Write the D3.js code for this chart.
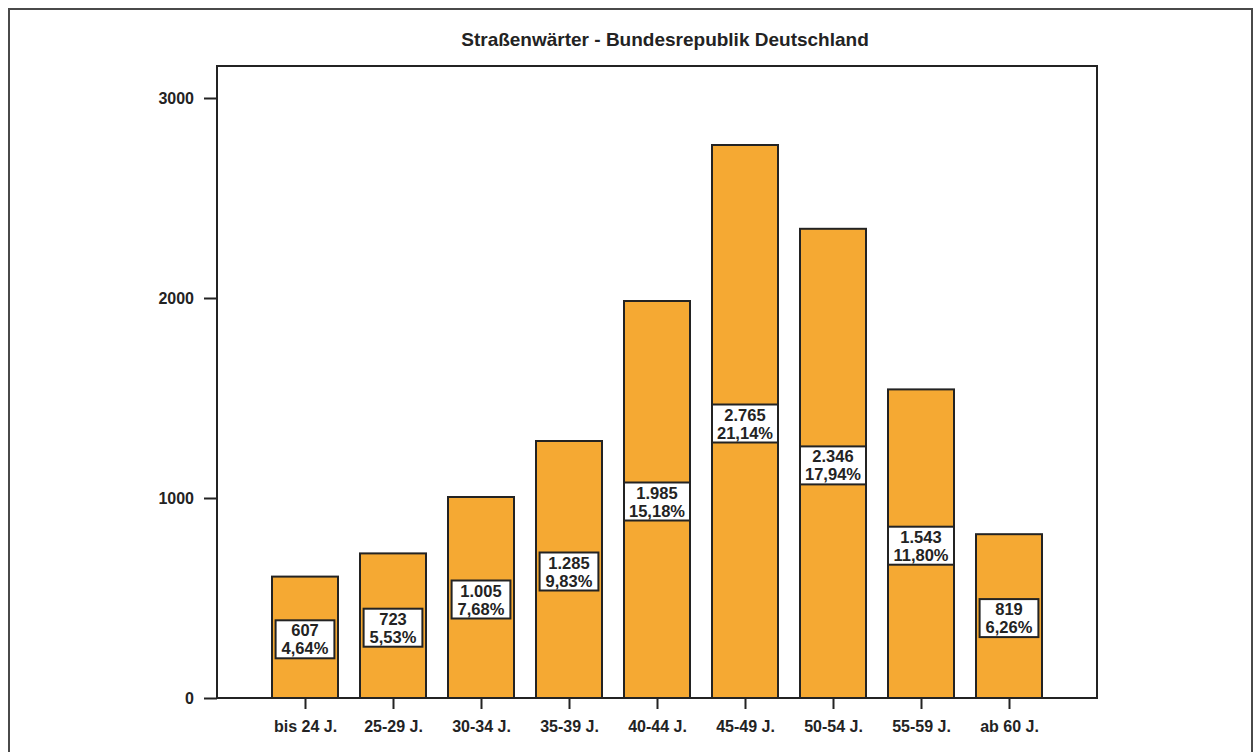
<!DOCTYPE html>
<html>
<head>
<meta charset="utf-8">
<script src="https://cdn.jsdelivr.net/npm/d3@7"></script>
<style>
  html, body { margin: 0; padding: 0; background: #fff; }
  svg { display: block; font-family: "Liberation Sans", Arial, Helvetica, sans-serif; }
</style>
</head>
<body>
<svg id="chart" width="1255" height="752"></svg>
<script>
// Altersgruppen und Anzahl der Beschäftigten
const categories = ["bis 24 J.", "25-29 J.", "30-34 J.", "35-39 J.", "40-44 J.", "45-49 J.", "50-54 J.", "55-59 J.", "ab 60 J."];
const counts = [607, 723, 1005, 1285, 1985, 2765, 2346, 1543, 819];
const shares = [4.64, 5.53, 7.68, 9.83, 15.18, 21.14, 17.94, 11.80, 6.26];
const yTicks = [0, 1000, 2000, 3000];
const title = "Straßenwärter - Bundesrepublik Deutschland";

const de = d3.formatLocale({ decimal: ",", thousands: ".", grouping: [3], currency: ["", " €"] });
const fmtCount = de.format(",d");
const fmtShare = v => de.format(".2f")(v) + "%";

const svg = d3.select("#chart");
const plot = { left: 217, right: 1097, top: 66, bottom: 698 };
const ink = "#232323";
const barFill = "#f5a933";

// äußerer Rahmen
svg.append("rect")
  .attr("x", 9).attr("y", 9).attr("width", 1243).attr("height", 760)
  .attr("fill", "none").attr("stroke", "#4a4a4a").attr("stroke-width", 2);

const x = d3.scalePoint().domain(categories).range([plot.left, plot.right]).padding(1);
const y = d3.scaleLinear().domain([0, 3160]).range([plot.bottom, plot.top]);
const barW = x.step() * 0.75;

// Titel
svg.append("text")
  .attr("x", (plot.left + plot.right) / 2 + 8).attr("y", 46)
  .attr("text-anchor", "middle")
  .attr("font-size", 19).attr("font-weight", "bold").attr("fill", ink)
  .text(title);

// Y-Achse
const yAxis = d3.axisLeft(y).tickValues(yTicks).tickFormat(d3.format("d")).tickSize(13).tickPadding(10);
const gy = svg.append("g").attr("transform", `translate(${plot.left},0)`).call(yAxis);
gy.select(".domain").remove();
gy.selectAll(".tick line").attr("stroke", ink).attr("stroke-width", 2);
gy.selectAll(".tick text").attr("font-size", 16).attr("font-weight", "bold").attr("fill", ink)
  .attr("font-family", "Liberation Sans, Arial, sans-serif");

// X-Achse
const xAxis = d3.axisBottom(x).tickSize(11).tickPadding(12);
const gx = svg.append("g").attr("transform", `translate(0,${plot.bottom})`).call(xAxis);
gx.select(".domain").remove();
gx.selectAll(".tick line").attr("stroke", ink).attr("stroke-width", 2);
gx.selectAll(".tick text").attr("font-size", 16).attr("font-weight", "bold").attr("fill", ink)
  .attr("font-family", "Liberation Sans, Arial, sans-serif");

// Balken
const data = categories.map((c, i) => ({ cat: c, count: counts[i], share: shares[i] }));
svg.append("g").selectAll("rect")
  .data(data).join("rect")
  .attr("x", d => x(d.cat) - barW / 2)
  .attr("y", d => y(d.count))
  .attr("width", barW)
  .attr("height", d => y(0) - y(d.count))
  .attr("fill", barFill)
  .attr("stroke", ink).attr("stroke-width", 2);

// Diagrammrahmen
svg.append("rect")
  .attr("x", plot.left).attr("y", plot.top)
  .attr("width", plot.right - plot.left).attr("height", plot.bottom - plot.top)
  .attr("fill", "none").attr("stroke", ink).attr("stroke-width", 2);

// Wertebeschriftung in der Balkenmitte
const lbl = svg.append("g").selectAll("g").data(data).join("g")
  .attr("transform", d => `translate(${x(d.cat)},${(y(d.count) + y(0)) / 2 + 2})`);

lbl.each(function (d) {
  const g = d3.select(this);
  const box = g.append("rect");
  const t1 = g.append("text").attr("y", -3).text(fmtCount(d.count));
  const t2 = g.append("text").attr("y", 15).text(fmtShare(d.share));
  g.selectAll("text")
    .attr("text-anchor", "middle").attr("font-size", 16.5).attr("font-weight", "bold").attr("fill", ink);
  const w = Math.min(Math.max(t1.node().getComputedTextLength(), t2.node().getComputedTextLength()) + 12, barW);
  box.attr("x", -w / 2).attr("y", -19).attr("width", w).attr("height", 38)
    .attr("fill", "#fff").attr("stroke", ink).attr("stroke-width", 2);
});
</script>
</body>
</html>
